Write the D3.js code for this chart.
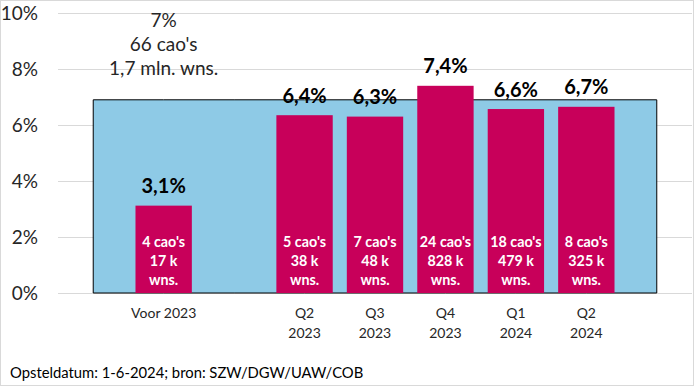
<!DOCTYPE html>
<html>
<head>
<meta charset="utf-8">
<script src="https://cdn.jsdelivr.net/npm/d3@7"></script>
<style>
  body { margin: 0; background: #fff; }
  svg { display: block; font-family: Lato, "Open Sans", sans-serif; }
</style>
</head>
<body>
<div id="chart"></div>
<script>
// categories (empty slots keep the gaps of the original)
var categories = ['', 'Voor 2023', 'gap', 'Q2 2023', 'Q3 2023', 'Q4 2023', 'Q1 2024', 'Q2 2024', 'end'];
var catLabels = [[], ['Voor 2023'], [], ['Q2', '2023'], ['Q3', '2023'], ['Q4', '2023'], ['Q1', '2024'], ['Q2', '2024'], []];

// magenta bars
var barCats = ['Voor 2023', 'Q2 2023', 'Q3 2023', 'Q4 2023', 'Q1 2024', 'Q2 2024'];
var barValues = [3.12, 6.35, 6.3, 7.4, 6.57, 6.65];
var barLabels = ['3,1%', '6,4%', '6,3%', '7,4%', '6,6%', '6,7%'];
var barInfo = [
  ["4 cao's", '17 k', 'wns.'],
  ["5 cao's", '38 k', 'wns.'],
  ["7 cao's", '48 k', 'wns.'],
  ["24 cao's", '828 k', 'wns.'],
  ["18 cao's", '479 k', 'wns.'],
  ["8 cao's", '325 k', 'wns.']
];

// light blue area: total
var areaValues = [6.9, 6.9, 6.9, 6.9, 6.9, 6.9, 6.9, 6.9, 6.9];
var areaNote = ['7%', "66 cao's", '1,7 mln. wns.'];

var yTicks = [0, 2, 4, 6, 8, 10];
var footer = 'Opsteldatum: 1-6-2024; bron: SZW/DGW/UAW/COB';

var W = 694, H = 386;
var margin = {top: 13, right: 2, bottom: 93, left: 58};

var svg = d3.select('#chart').append('svg')
  .attr('width', W)
  .attr('height', H);

// outer border
svg.append('rect')
  .attr('x', 0.5).attr('y', 0.5)
  .attr('width', W - 1).attr('height', H - 1)
  .attr('fill', '#fff')
  .attr('stroke', '#d9d9d9');

var x = d3.scaleBand()
  .domain(categories)
  .range([margin.left, W - margin.right])
  .paddingInner(0.2)
  .paddingOuter(0.1);

var y = d3.scaleLinear()
  .domain([0, 10])
  .range([H - margin.bottom, margin.top]);

// gridlines
svg.append('g')
  .selectAll('line')
  .data(yTicks)
  .enter()
    .append('line')
    .attr('x1', margin.left)
    .attr('x2', W - margin.right)
    .attr('y1', function(d){ return Math.round(y(d)) + 0.5; })
    .attr('y2', function(d){ return Math.round(y(d)) + 0.5; })
    .attr('stroke', '#d9d9d9');

// y tick labels
svg.append('g')
  .selectAll('text')
  .data(yTicks)
  .enter()
    .append('text')
    .attr('x', 38)
    .attr('y', function(d){ return y(d); })
    .attr('dy', '0.36em')
    .attr('text-anchor', 'end')
    .attr('font-size', 19)
    .attr('fill', '#262626')
    .text(function(d){ return d + '%'; });

// area
var cx = function(c){ return x(c) + x.bandwidth() / 2; };
var area = d3.area()
  .x(function(d, i){ return cx(categories[i]); })
  .y0(y(0))
  .y1(function(d){ return y(d); });

svg.append('path')
  .datum(areaValues)
  .attr('d', function(d){ return area(d) + 'Z'; })
  .attr('fill', '#8ecae6')
  .attr('stroke', '#000')
  .attr('stroke-width', 1);

// area annotation
svg.append('g')
  .selectAll('text')
  .data(areaNote)
  .enter()
    .append('text')
    .attr('x', cx('Voor 2023'))
    .attr('y', function(d, i){ return 27 + i * 24; })
    .attr('text-anchor', 'middle')
    .attr('font-size', 19)
    .attr('fill', '#262626')
    .text(function(d){ return d; });

// bars
svg.append('g')
  .selectAll('rect')
  .data(barValues)
  .enter()
    .append('rect')
    .attr('x', function(d, i){ return x(barCats[i]); })
    .attr('width', x.bandwidth())
    .attr('y', function(d){ return y(d); })
    .attr('height', function(d){ return y(0) - y(d); })
    .attr('fill', '#c8005a');

// value labels
svg.append('g')
  .selectAll('text')
  .data(barValues)
  .enter()
    .append('text')
    .attr('x', function(d, i){ return cx(barCats[i]); })
    .attr('y', function(d){ return y(d) - 12.5; })
    .attr('text-anchor', 'middle')
    .attr('font-size', 20)
    .attr('font-weight', 'bold')
    .attr('fill', '#000')
    .text(function(d, i){ return barLabels[i]; });

// info inside bars
barInfo.forEach(function(lines, i){
  svg.append('g')
    .selectAll('text')
    .data(lines)
    .enter()
      .append('text')
      .attr('x', cx(barCats[i]))
      .attr('y', function(d, j){ return 246.5 + j * 19; })
      .attr('text-anchor', 'middle')
      .attr('font-size', 14.3)
      .attr('font-weight', 'bold')
      .attr('fill', '#fff')
      .text(function(d){ return d; });
});

// x labels
catLabels.forEach(function(lines, i){
  svg.append('g')
    .selectAll('text')
    .data(lines)
    .enter()
      .append('text')
      .attr('x', cx(categories[i]))
      .attr('y', function(d, j){ return 318 + j * 20; })
      .attr('text-anchor', 'middle')
      .attr('font-size', 14)
      .attr('fill', '#262626')
      .text(function(d){ return d; });
});

// footer
svg.append('text')
  .attr('x', 10)
  .attr('y', 378)
  .attr('font-size', 14.8)
  .attr('fill', '#000')
  .text(footer);
</script>
</body>
</html>
